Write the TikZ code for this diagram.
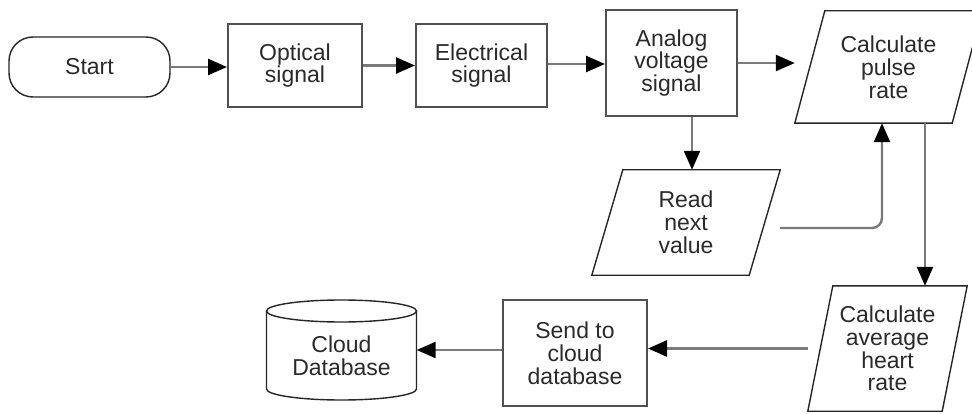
\documentclass[tikz,border=0pt]{standalone}
\usepackage{fontspec}
\setmainfont{Liberation Sans}
\usetikzlibrary{arrows.meta}
\definecolor{boxc}{HTML}{505050}
\definecolor{linec}{HTML}{7A7A7A}
\definecolor{txt}{HTML}{2A2A2A}
\begin{document}
\begin{tikzpicture}[x=1pt,y=-1pt,
  every node/.style={font=\fontsize{23}{22.8}\selectfont, text=txt, align=center, inner sep=0pt},
  proc/.style={draw=boxc, line width=2pt},
  shp/.style={draw=black!85, line width=1.4pt},
  conn/.style={draw=linec, line width=2.4pt, -{Triangle[length=19pt,width=16pt,color=black]}},
]
\clip (0,0) rectangle (972,414);
\fill[white] (0,0) rectangle (972,414);

% nodes
\node[shp, rounded corners=24pt, minimum width=161pt, minimum height=60pt] (start) at (89.5,67) {Start};
\node[proc, minimum width=134pt, minimum height=83pt] (opt) at (295,65.5) {Optical\\signal};
\node[proc, minimum width=131pt, minimum height=83pt] (ele) at (481.5,65.5) {Electrical\\signal};
\node[proc, minimum width=131pt, minimum height=106pt] (ana) at (671.5,63) {Analog\\voltage\\signal};

\node[minimum width=187pt, minimum height=112pt] (pul) at (888.5,67) {Calculate\\pulse\\rate};
\draw[shp] (pul.south west) -- ([xshift=-30pt]pul.south east) -- (pul.north east) -- ([xshift=30pt]pul.north west) -- cycle;

\node[minimum width=188pt, minimum height=105pt] (rd) at (686,222.5) {Read\\next\\value};
\draw[shp] (rd.south west) -- ([xshift=-31pt]rd.south east) -- (rd.north east) -- ([xshift=31pt]rd.north west) -- cycle;

\node[minimum width=159pt, minimum height=125pt] (avg) at (887.5,348.5) {Calculate\\average\\heart\\rate};
\draw[shp] (avg.south west) -- ([xshift=-25pt]avg.south east) -- (avg.north east) -- ([xshift=25pt]avg.north west) -- cycle;

\node[proc, minimum width=144pt, minimum height=106pt] (snd) at (575,353) {Send to\\cloud\\database};

\node[minimum width=150pt, minimum height=100pt] (db) at (341.5,350) {};
\draw[shp] (341.5,311) ellipse [x radius=75pt, y radius=11pt];
\draw[shp] (266.5,311) -- (266.5,389) arc[start angle=180, end angle=360, x radius=75pt, y radius=11pt] -- (416.5,311);
\node (dbt) at (341.5,356) {Cloud\\Database};

% connectors
\draw[conn] (start.east) -- (start.east -| opt.west);
\draw[conn] (opt.east) -- (ele.west);
\draw[conn] ([yshift=1.5pt]ele.east) -- ([yshift=1.5pt]ele.east -| ana.west);
\draw[conn] (ana.east) -- (ana.east -| pul.west);
\draw[conn] ([xshift=20.5pt]ana.south) -- ([xshift=20.5pt]ana.south |- rd.north);
\draw[conn, rounded corners=10pt] ([yshift=-5.5pt]rd.east) -| ([xshift=-6.5pt]pul.south);
\draw[conn] ([xshift=36.5pt]pul.south) -- ([xshift=36.5pt]pul.south |- avg.north);
\draw[conn] (avg.west) -- (avg.west -| snd.east);
\draw[conn] ([yshift=3pt]snd.west) -- ([yshift=3pt]snd.west -| db.east);
\end{tikzpicture}
\end{document}
